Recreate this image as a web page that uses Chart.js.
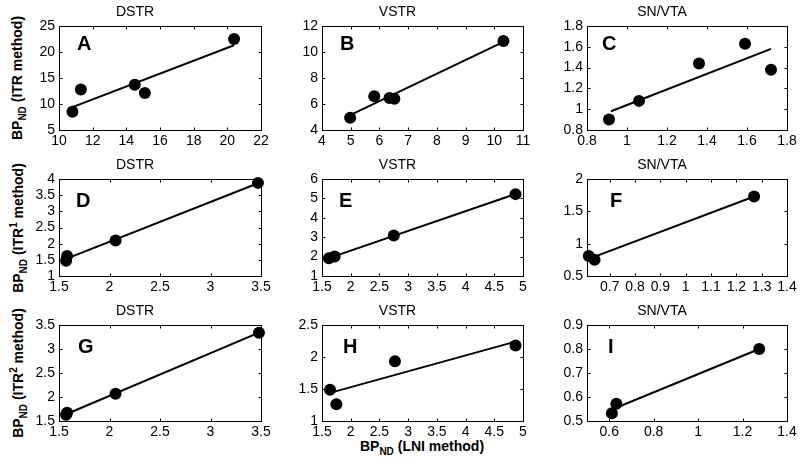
<!DOCTYPE html>
<html>
<head>
<meta charset="utf-8">
<script src="https://cdn.jsdelivr.net/npm/chart.js@4.4.1/dist/chart.umd.min.js"></script>
<style>
  body { margin: 0; background: #fff; width: 800px; height: 468px; position: relative; overflow: hidden;
         font-family: "Liberation Sans", Arial, sans-serif; color: #000; }
  canvas { position: absolute; }
  .ytitle { position: absolute; font-weight: bold; font-size: 14px; white-space: nowrap;
            transform: translate(-50%, -50%) rotate(-90deg); }
  .xtitle { position: absolute; font-weight: bold; font-size: 14px; white-space: nowrap;
            transform: translate(-50%, -50%); }
  sub { font-size: 10px; vertical-align: -4px; }
  sup { font-size: 10px; vertical-align: 6px; }
</style>
</head>
<body>
<div class="ytitle" style="left:18px; top:78px">BP<sub>ND</sub> (ITR method)</div>
<div class="ytitle" style="left:18px; top:228px">BP<sub>ND</sub> (ITR<sup>1</sup> method)</div>
<div class="ytitle" style="left:18px; top:373px">BP<sub>ND</sub> (ITR<sup>2</sup> method)</div>
<div class="xtitle" style="left:422px; top:447px">BP<sub>ND</sub> (LNI method)</div>
<script>
// panel A - DSTR, ITR
const aX = [10.8, 11.3, 14.5, 15.1, 20.4];
const aY = [8.5, 12.8, 13.7, 12.1, 22.5];
const aFitX = [10.8, 20.4];
const aFitY = [9.4, 21.3];
const aXTicks = [10, 12, 14, 16, 18, 20, 22];
const aYTicks = [5, 10, 15, 20, 25];

// panel B - VSTR, ITR
const bX = [4.98, 5.82, 6.35, 6.52, 10.32];
const bY = [4.94, 6.6, 6.47, 6.4, 10.85];
const bFitX = [4.98, 10.32];
const bFitY = [5.15, 10.78];
const bXTicks = [4, 5, 6, 7, 8, 9, 10, 11];
const bYTicks = [4, 6, 8, 10, 12];

// panel C - SN/VTA, ITR
const cX = [0.91, 1.06, 1.36, 1.59, 1.72];
const cY = [0.90, 1.08, 1.44, 1.63, 1.38];
const cFitX = [0.92, 1.72];
const cFitY = [0.98, 1.58];
const cXTicks = [0.8, 1, 1.2, 1.4, 1.6, 1.8];
const cYTicks = [0.8, 1, 1.2, 1.4, 1.6, 1.8];

// panel D - DSTR, ITR1
const dX = [1.58, 1.57, 2.06, 3.47];
const dY = [1.62, 1.47, 2.1, 3.88];
const dFitX = [1.57, 3.47];
const dFitY = [1.53, 3.87];
const dXTicks = [1.5, 2, 2.5, 3, 3.5];
const dYTicks = [1, 1.5, 2, 2.5, 3, 3.5, 4];

// panel E - VSTR, ITR1
const eX = [1.62, 1.72, 2.75, 4.87];
const eY = [1.91, 2.0, 3.09, 5.22];
const eFitX = [1.62, 4.87];
const eFitY = [1.92, 5.23];
const eXTicks = [1.5, 2, 2.5, 3, 3.5, 4, 4.5, 5];
const eYTicks = [1, 2, 3, 4, 5, 6];

// panel F - SN/VTA, ITR1
const fX = [0.617, 0.64, 1.27];
const fY = [0.81, 0.75, 1.73];
const fFitX = [0.617, 1.27];
const fFitY = [0.765, 1.73];
const fXTicks = [0.7, 0.8, 0.9, 1, 1.1, 1.2, 1.3, 1.4];
const fYTicks = [0.5, 1, 1.5, 2];

// panel G - DSTR, ITR2
const gX = [1.57, 1.58, 2.06, 3.48];
const gY = [1.63, 1.67, 2.07, 3.34];
const gFitX = [1.57, 3.48];
const gFitY = [1.64, 3.34];
const gXTicks = [1.5, 2, 2.5, 3, 3.5];
const gYTicks = [1.5, 2, 2.5, 3, 3.5];

// panel H - VSTR, ITR2
const hX = [1.64, 1.75, 2.77, 4.87];
const hY = [1.49, 1.26, 1.935, 2.18];
const hFitX = [1.64, 4.87];
const hFitY = [1.44, 2.24];
const hXTicks = [1.5, 2, 2.5, 3, 3.5, 4, 4.5, 5];
const hYTicks = [1, 1.5, 2, 2.5];

// panel I - SN/VTA, ITR2
const iX = [0.612, 0.632, 1.275];
const iY = [0.532, 0.572, 0.80];
const iFitX = [0.612, 1.275];
const iFitY = [0.548, 0.80];
const iXTicks = [0.6, 0.8, 1, 1.2, 1.4];
const iYTicks = [0.5, 0.6, 0.7, 0.8, 0.9];

const regions = ["DSTR", "VSTR", "SN/VTA"];
const letters = ["A", "B", "C", "D", "E", "F", "G", "H", "I"];

const panels = [
  { x: aX, y: aY, fx: aFitX, fy: aFitY, xt: aXTicks, yt: aYTicks, xr: [10, 22], yr: [5, 25] },
  { x: bX, y: bY, fx: bFitX, fy: bFitY, xt: bXTicks, yt: bYTicks, xr: [4, 11], yr: [4, 12] },
  { x: cX, y: cY, fx: cFitX, fy: cFitY, xt: cXTicks, yt: cYTicks, xr: [0.8, 1.8], yr: [0.8, 1.8] },
  { x: dX, y: dY, fx: dFitX, fy: dFitY, xt: dXTicks, yt: dYTicks, xr: [1.5, 3.5], yr: [1, 4] },
  { x: eX, y: eY, fx: eFitX, fy: eFitY, xt: eXTicks, yt: eYTicks, xr: [1.5, 5], yr: [1, 6] },
  { x: fX, y: fY, fx: fFitX, fy: fFitY, xt: fXTicks, yt: fYTicks, xr: [0.61, 1.4], yr: [0.5, 2] },
  { x: gX, y: gY, fx: gFitX, fy: gFitY, xt: gXTicks, yt: gYTicks, xr: [1.5, 3.5], yr: [1.5, 3.5] },
  { x: hX, y: hY, fx: hFitX, fy: hFitY, xt: hXTicks, yt: hYTicks, xr: [1.5, 5], yr: [1, 2.5] },
  { x: iX, y: iY, fx: iFitX, fy: iFitY, xt: iXTicks, yt: iYTicks, xr: [0.5, 1.4], yr: [0.5, 0.9] }
];

// plot-area pixel boxes of the figure
const rowBox = [[26, 130], [179, 276], [325, 421]];
const colBox = [[59, 261], [322, 523], [587, 787]];
const letterPos = [[18, 24], [18, 24], [15, 24], [17, 28], [17, 28], [23, 28], [19, 28], [21, 28], [21, 28]];

const FONT = "'Liberation Sans', Arial, sans-serif";
const Y_W = 50, X_H = 24, TITLE_H = 21, PAD_R = 16;

// MATLAB style box with inward ticks on all four sides
const boxTicks = {
  id: "boxTicks",
  beforeDatasetsDraw(chart) {
    const { ctx, chartArea: a, scales: { x, y } } = chart;
    ctx.save();
    ctx.strokeStyle = "#000";
    ctx.lineWidth = 1;
    const l = Math.round(a.left) + 0.5, r = Math.round(a.right) + 0.5;
    const t = Math.round(a.top) + 0.5, b = Math.round(a.bottom) + 0.5;
    ctx.strokeRect(l, t, r - l, b - t);
    ctx.beginPath();
    x.ticks.forEach(tk => {
      const px = Math.round(x.getPixelForValue(tk.value)) + 0.5;
      if (px <= l + 1 || px >= r - 1) return;
      ctx.moveTo(px, b); ctx.lineTo(px, b - 3);
      ctx.moveTo(px, t); ctx.lineTo(px, t + 3);
    });
    y.ticks.forEach(tk => {
      const py = Math.round(y.getPixelForValue(tk.value)) + 0.5;
      if (py <= t + 1 || py >= b - 1) return;
      ctx.moveTo(l, py); ctx.lineTo(l + 3, py);
      ctx.moveTo(r, py); ctx.lineTo(r - 3, py);
    });
    ctx.stroke();
    ctx.restore();
  }
};

const panelLetter = {
  id: "panelLetter",
  afterDraw(chart, args, opts) {
    const { ctx, chartArea: a } = chart;
    ctx.save();
    ctx.fillStyle = "#000";
    ctx.font = "bold 20px " + FONT;
    ctx.textBaseline = "alphabetic";
    ctx.fillText(opts.text, a.left + opts.dx, a.top + opts.dy);
    ctx.restore();
  }
};

panels.forEach((p, i) => {
  const r = Math.floor(i / 3), c = i % 3;
  const w = colBox[c][1] - colBox[c][0] + Y_W + PAD_R;
  const h = rowBox[r][1] - rowBox[r][0] + TITLE_H + X_H;
  const cv = document.createElement("canvas");
  cv.width = w; cv.height = h;
  cv.style.left = (colBox[c][0] - Y_W) + "px";
  cv.style.top = (rowBox[r][0] - TITLE_H) + "px";
  document.body.appendChild(cv);

  const tickFont = { family: FONT, size: 14 };
  new Chart(cv, {
    type: "scatter",
    data: {
      datasets: [
        {
          data: p.x.map((v, k) => ({ x: v, y: p.y[k] })),
          pointRadius: 6,
          pointBackgroundColor: "#000",
          pointBorderWidth: 0,
          clip: false
        },
        {
          data: p.fx.map((v, k) => ({ x: v, y: p.fy[k] })),
          showLine: true,
          borderColor: "#000",
          borderWidth: 2,
          pointRadius: 0,
          clip: false
        }
      ]
    },
    options: {
      responsive: false,
      animation: false,
      devicePixelRatio: 1,
      layout: { padding: { left: 0, right: PAD_R, top: 0, bottom: 0 } },
      plugins: {
        legend: { display: false },
        tooltip: { enabled: false },
        title: {
          display: true,
          text: regions[c],
          color: "#000",
          font: { family: FONT, size: 14, weight: "normal", lineHeight: 1 },
          padding: { top: 0, bottom: 7 }
        },
        panelLetter: { text: letters[i], dx: letterPos[i][0], dy: letterPos[i][1] }
      },
      scales: {
        x: {
          type: "linear",
          min: p.xr[0], max: p.xr[1],
          grid: { display: false, drawTicks: false },
          border: { display: false },
          ticks: { color: "#000", font: tickFont, padding: 3, autoSkip: false, maxRotation: 0,
                   callback: v => String(v) },
          afterBuildTicks: s => { s.ticks = p.xt.map(v => ({ value: v })); },
          afterFit: s => { s.height = X_H; }
        },
        y: {
          type: "linear",
          min: p.yr[0], max: p.yr[1],
          grid: { display: false, drawTicks: false },
          border: { display: false },
          ticks: { color: "#000", font: tickFont, padding: 4, autoSkip: false,
                   callback: v => String(v) },
          afterBuildTicks: s => { s.ticks = p.yt.map(v => ({ value: v })); },
          afterFit: s => { s.width = Y_W; }
        }
      }
    },
    plugins: [boxTicks, panelLetter]
  });
});
</script>
</body>
</html>
